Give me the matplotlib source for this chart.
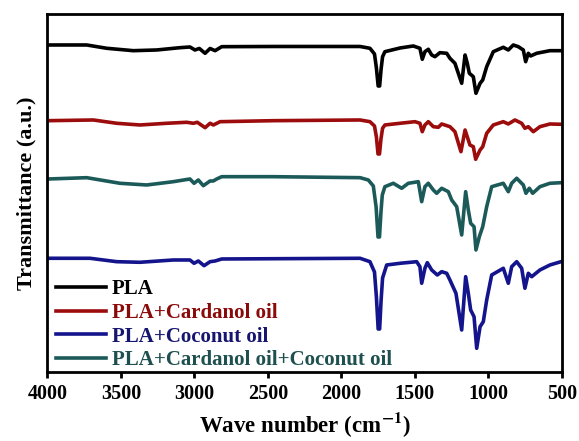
import matplotlib
matplotlib.use("Agg")
import matplotlib.pyplot as plt

plt.rcParams['font.family'] = ['Liberation Serif', 'DejaVu Serif']
plt.rcParams['font.weight'] = 'bold'
plt.rcParams['mathtext.fontset'] = 'stix'

# ---- data (wavenumber cm-1, transmittance a.u., already vertically stacked) ----
pla_wn = [3993, 3732, 3596, 3415, 3256, 3098, 3030, 2996, 2966, 2927, 2893, 2859, 2814,
          2463, 1873, 1806, 1775, 1762, 1750, 1740, 1730, 1720, 1704, 1601, 1511, 1466, 1450,
          1432, 1409, 1386, 1364, 1330, 1284, 1262, 1228, 1182, 1159, 1144, 1130, 1103,
          1085, 1057, 1039, 1012, 967, 899, 865, 831, 797, 763, 747, 729, 713, 672, 582, 507]
pla_t = [327, 327, 323.7, 321.3, 322, 324.3, 325, 322, 323.5, 318.7, 323.5, 321.3, 325.3,
         325.5, 325.5, 323.7, 318, 304, 286, 286, 303, 315.3, 320.3, 324, 326, 323.7, 312.7,
         320.3, 322.7, 317, 315.3, 319.3, 318.7, 313.7, 308.7, 288.7, 317, 308.7, 298.7, 295.3,
         278.7, 288.7, 292, 305.3, 320.3, 324.7, 322, 327, 325.3, 322, 310.3, 318.7, 316, 318.7, 321.3, 321.3]

card_wn = [3993, 3687, 3528, 3370, 3188, 3052, 3007, 2980, 2927, 2893, 2871, 2825, 2463,
           1873, 1806, 1775, 1762, 1751, 1741, 1731, 1720, 1704, 1601, 1500, 1466, 1450, 1432,
           1409, 1375, 1341, 1318, 1262, 1228, 1187, 1159, 1137, 1126, 1103, 1087, 1057,
           1039, 1012, 967, 899, 865, 820, 774, 752, 729, 695, 650, 582, 507]
card_t = [251.3, 252, 248.7, 247, 248.7, 249.7, 248.7, 249.7, 244.3, 248.7, 247, 250.3, 251.3,
          252, 250.3, 246, 235, 218, 218, 233, 243.7, 247, 248.7, 250.3, 248.7, 240.3, 247,
          250.3, 245.3, 244.7, 248, 245.3, 240.3, 220.3, 242, 232, 227, 225.3, 212.7, 222,
          225.3, 238.7, 247, 250.3, 248, 252, 248.7, 243.7, 245.3, 240.3, 245.3, 248, 247.7]

coco_wn = [3993, 3710, 3528, 3370, 3143, 3030, 3002, 2973, 2934, 2893, 2859, 2814, 1873,
           1806, 1775, 1762, 1750, 1740, 1730, 1720, 1692, 1601, 1488, 1466, 1454, 1432, 1416,
           1386, 1348, 1318, 1284, 1262, 1221, 1182, 1155, 1137, 1121, 1098, 1080, 1057,
           1035, 1012, 978, 899, 865, 842, 808, 774, 752, 729, 706, 650, 582, 507]
coco_t = [113.7, 113.7, 110.3, 109.7, 112, 112, 108.7, 111, 106.3, 110.3, 111, 113, 113.7,
          110.3, 100, 75, 43, 43, 72, 94, 107, 108.7, 110.3, 105.3, 88.7, 103.7, 109.3,
          102, 97, 100.3, 98.7, 92, 78.7, 42, 95.3, 78.7, 62, 55.3, 23.7, 45.3,
          50.3, 72, 97, 103.7, 88.7, 105.3, 110.3, 103.7, 83.7, 98.7, 95.3, 102, 107, 110.3]

both_wn = [3993, 3732, 3506, 3324, 3143, 3030, 3002, 2973, 2939, 2893, 2871, 2848, 2814,
           2463, 1873, 1817, 1783, 1764, 1751, 1741, 1731, 1722, 1704, 1647, 1590, 1545, 1477,
           1454, 1432, 1409, 1375, 1352, 1318, 1273, 1250, 1216, 1182, 1155, 1137, 1121,
           1098, 1085, 1062, 1039, 1012, 978, 899, 865, 842, 808, 763, 745, 722, 699,
           650, 582, 507]
both_t = [193, 194.3, 188.7, 187, 190.3, 193, 188.7, 192, 186.3, 191, 191, 193, 195.3,
          195.3, 194.3, 192, 186, 165, 135, 135, 160, 177, 185.3, 188.7, 183.7, 188.7, 190.3,
          170.3, 185.3, 188.7, 182, 178.7, 183.7, 180.3, 172, 165.3, 137, 180.3, 162, 148.7,
          145.3, 122, 135.3, 145.3, 165.3, 185.3, 188.7, 180.3, 188.7, 193.7, 187, 178.7, 183.7, 178.7,
          185.3, 188.7, 189.3]

labels = ["PLA", "PLA+Cardanol oil", "PLA+Coconut oil", "PLA+Cardanol oil+Coconut oil"]
colors = ["#000000", "#9c0c0c", "#14148c", "#1c5a5a"]
text_colors = ["#000000", "#8a0a0a", "#161670", "#1f5050"]
xticks = [4000, 3500, 3000, 2500, 2000, 1500, 1000, 500]

fig = plt.figure(figsize=(5.79, 4.41), dpi=100)
ax = fig.add_axes([0.0817, 0.1565, 0.8889, 0.8118])

series = [(pla_wn, pla_t), (card_wn, card_t), (coco_wn, coco_t), (both_wn, both_t)]
handles = []
for (wn, t), c, lab in zip(series, colors, labels):
    h, = ax.plot(wn, t, color=c, lw=2.6, label=lab, solid_joinstyle='round')
    handles.append(h)

ax.set_xlim(4000, 500)
ax.set_ylim(0, 358)
ax.set_xticks(xticks)
ax.set_xticklabels([str(v) for v in xticks], fontsize=14.5, fontweight='bold')
ax.set_yticks([])
ax.tick_params(axis='x', direction='out', length=4, width=2, pad=5)
for s in ax.spines.values():
    s.set_linewidth(2)

ax.set_xlabel(r'Wave number (cm$^{\mathbf{-1}}$)', fontsize=16.5, fontweight='bold', labelpad=4)
ax.set_ylabel('Transmittance (a.u.)', fontsize=16, fontweight='bold', labelpad=8)

leg = ax.legend(handles=handles, loc='lower left', frameon=False, fontsize=15,
                handlelength=2.4, handletextpad=0.3, labelspacing=0.17,
                borderaxespad=0.0, bbox_to_anchor=(0.0, -0.018))
for txt, tc in zip(leg.get_texts(), text_colors):
    txt.set_color(tc)
    txt.set_fontweight('bold')

fig.savefig("out.png", dpi=100)
